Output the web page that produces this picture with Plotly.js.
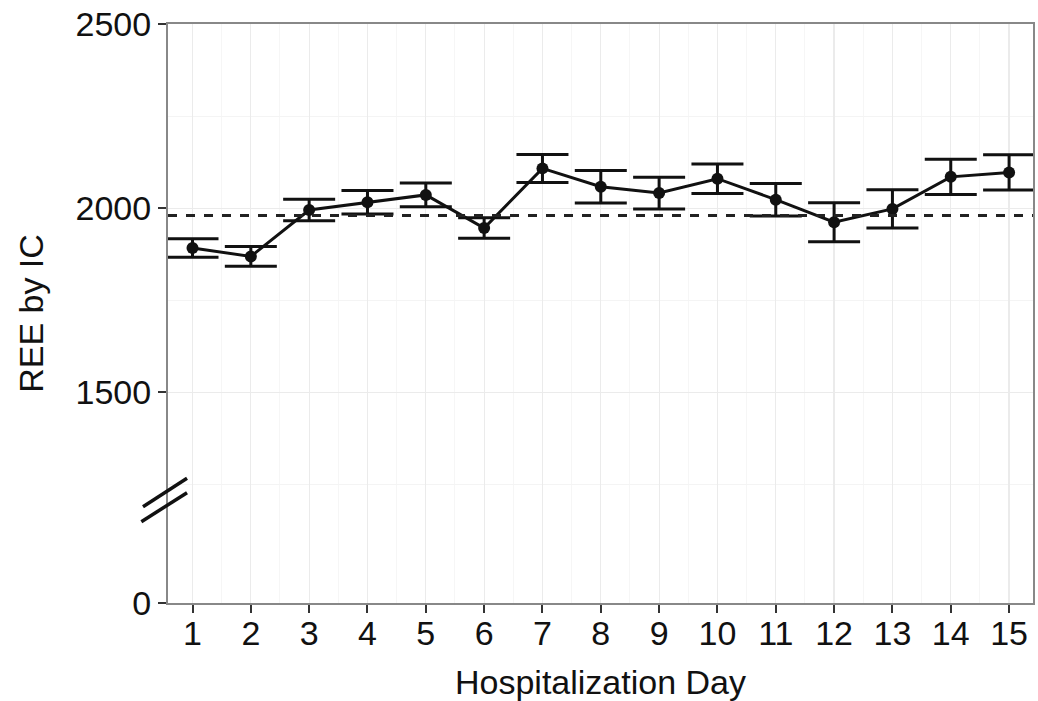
<!DOCTYPE html>
<html>
<head>
<meta charset="utf-8">
<script src="https://cdn.plot.ly/plotly-3.0.1.min.js"></script>
<style>html,body{margin:0;padding:0;background:#fff;}#chart{width:1038px;height:701px;}</style>
</head>
<body>
<div id="chart"></div>
<script>
// Data
var days = [1,2,3,4,5,6,7,8,9,10,11,12,13,14,15];
var reeMean = [1892,1869,1995,2016,2036,1946,2108,2058,2041,2080,2023,1962,1998,2085,2097];
var reeSE   = [25,27,29,32,32,28,38,44,43,40,44,53,52,48,48];
var referenceREE = 1980;
var yTickValues = [0,1500,2000,2500];
var yTickLabels = ['0','1500','2000','2500'];
var yMinorValues = [1250,1750,2250];

// broken axis: values below the break are squeezed; 0 is drawn at BREAK_ZERO
var BREAK_ZERO = 928;
function yPos(v){ return v === 0 ? BREAK_ZERO : v; }

var font = "'Liberation Sans', Arial, Helvetica, sans-serif";

var traces = [{
  x: days,
  y: reeMean.map(yPos),
  type: 'scatter',
  mode: 'lines+markers',
  line: {color: '#111', width: 3},
  marker: {color: '#111', size: 12},
  error_y: {type: 'data', array: reeSE, visible: true, color: '#111', thickness: 3, width: 26},
  hoverinfo: 'x+y',
  showlegend: false
}];

var layout = {
  width: 1038, height: 701,
  margin: {l: 168, r: 5, t: 24, b: 98},
  paper_bgcolor: '#fff', plot_bgcolor: '#fff',
  font: {family: font, size: 34, color: '#111'},
  xaxis: {
    range: [0.58, 15.41],
    tickmode: 'array', tickvals: days, ticktext: days.map(String),
    ticks: 'outside', ticklen: 8, tickwidth: 2, tickcolor: '#333',
    ticklabelstandoff: -9,
    showgrid: true, gridcolor: '#ebebeb', gridwidth: 1.2,
    minor: {dtick: 0.5, tick0: 0.5, showgrid: true, gridcolor: '#f6f6f6', gridwidth: 1},
    showline: true, linecolor: '#888', linewidth: 2, mirror: true,
    zeroline: false,
    tickfont: {size: 34, color: '#111'},
    title: {text: 'Hospitalization Day', font: {size: 34, color: '#111'}, standoff: 19}
  },
  yaxis: {
    range: [BREAK_ZERO, 2500],
    tickmode: 'array', tickvals: yTickValues.map(yPos), ticktext: yTickLabels,
    ticks: 'outside', ticklen: 8, tickwidth: 2, tickcolor: '#333',
    showgrid: true, gridcolor: '#ebebeb', gridwidth: 1.2,
    minor: {tickmode: 'array', tickvals: yMinorValues, showgrid: true, gridcolor: '#f4f4f4', gridwidth: 1, ticks: ''},
    showline: true, linecolor: '#888', linewidth: 2, mirror: true,
    zeroline: false,
    tickfont: {size: 34, color: '#111'},
    title: {text: 'REE by IC', font: {size: 34, color: '#111'}, standoff: 22}
  },
  shapes: [
    {type: 'line', xref: 'paper', yref: 'y', x0: 0, x1: 1, y0: referenceREE, y1: referenceREE,
     line: {color: '#222', width: 3, dash: 'dash'}, layer: 'above'},
    {type: 'line', xref: 'paper', yref: 'paper', x0: -0.0289, y0: 0.1663, x1: 0.022, y1: 0.2154,
     line: {color: '#111', width: 3.5}},
    {type: 'line', xref: 'paper', yref: 'paper', x0: -0.0308, y0: 0.1404, x1: 0.022, y1: 0.1905,
     line: {color: '#111', width: 3.5}}
  ]
};

Plotly.newPlot('chart', traces, layout, {displayModeBar: false, staticPlot: true});
</script>
</body>
</html>
